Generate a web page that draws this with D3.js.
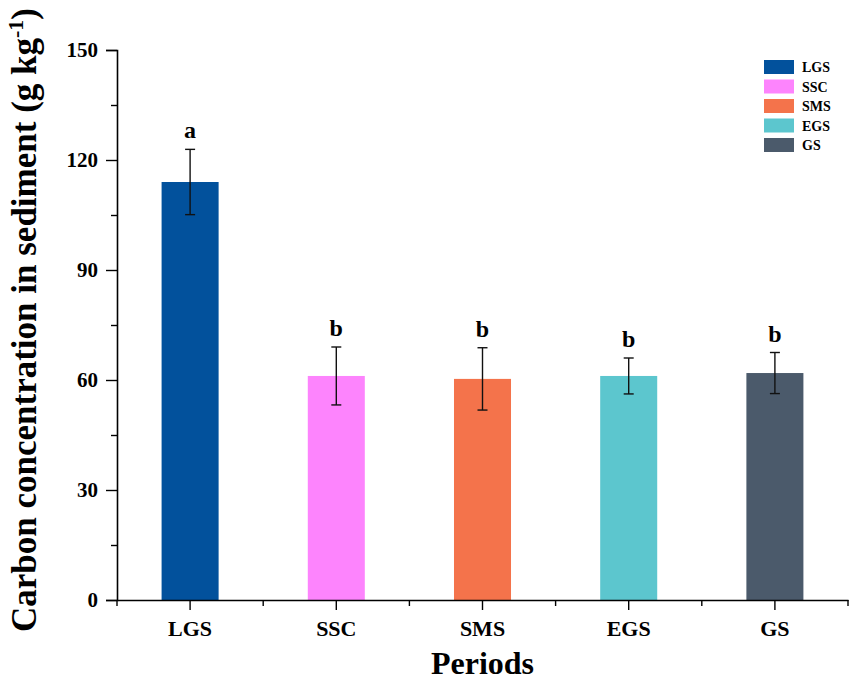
<!DOCTYPE html>
<html>
<head>
<meta charset="utf-8">
<script src="https://cdn.jsdelivr.net/npm/d3@7"></script>
<style>
  body { margin: 0; background: #fff; }
  text { font-family: "Liberation Serif", "Times New Roman", serif; }
</style>
</head>
<body>
<div id="chart"></div>
<script>
'use strict';

// data
const periods = ['LGS', 'SSC', 'SMS', 'EGS', 'GS'];
const carbonMean = [114.0, 61.1, 60.3, 61.1, 61.9];
const carbonErr = [8.9, 7.9, 8.5, 4.9, 5.6];
const groupLetters = ['a', 'b', 'b', 'b', 'b'];
const periodColours = ['#02519c', '#fd84fd', '#f4734b', '#5cc6ce', '#4b5a6b'];
const yTicks = [0, 30, 60, 90, 120, 150];
const yMinorTicks = [15, 45, 75, 105, 135];

const width = 850;
const height = 681;

const svg = d3.select('#chart')
    .append('svg')
    .attr('width', width)
    .attr('height', height);

const xScale = d3.scaleBand()
    .domain(periods)
    .range([117, 848])
    .padding(0);

const yScale = d3.scaleLinear()
    .domain([0, 150])
    .range([600, 50]);

const barWidth = xScale.bandwidth() * 0.39;

// bars
svg.append('g')
    .selectAll('rect')
    .data(periods)
    .enter()
    .append('rect')
    .attr('x', (d) => xScale(d) + (xScale.bandwidth() - barWidth) / 2)
    .attr('y', (d, i) => yScale(carbonMean[i]))
    .attr('width', barWidth)
    .attr('height', (d, i) => yScale(0) - yScale(carbonMean[i]))
    .attr('fill', (d, i) => periodColours[i]);

// error bars
let errs = svg.append('g')
    .attr('stroke', '#111')
    .attr('stroke-width', 1.4);

periods.forEach((p, i) => {
    let cx = xScale(p) + xScale.bandwidth() / 2;
    let top = yScale(carbonMean[i] + carbonErr[i]);
    let bot = yScale(carbonMean[i] - carbonErr[i]);
    errs.append('line').attr('x1', cx).attr('x2', cx).attr('y1', top).attr('y2', bot);
    errs.append('line').attr('x1', cx - 5).attr('x2', cx + 5).attr('y1', top).attr('y2', top);
    errs.append('line').attr('x1', cx - 5).attr('x2', cx + 5).attr('y1', bot).attr('y2', bot);
});

// significance letters
svg.append('g')
    .selectAll('text')
    .data(periods)
    .enter()
    .append('text')
    .attr('x', (d) => xScale(d) + xScale.bandwidth() / 2)
    .attr('y', (d, i) => yScale(carbonMean[i] + carbonErr[i]) - 11)
    .attr('text-anchor', 'middle')
    .attr('font-size', 24)
    .attr('font-weight', 'bold')
    .attr('fill', '#000')
    .text((d, i) => groupLetters[i]);

// y axis
let yAxis = d3.axisLeft(yScale)
    .tickValues(yTicks)
    .tickSize(11)
    .tickPadding(8);

let yG = svg.append('g')
    .attr('transform', 'translate(117,0)')
    .call(yAxis);

yG.selectAll('text')
    .attr('font-size', 21)
    .attr('font-weight', 'bold')
    .attr('font-family', '"Liberation Serif", serif');

svg.append('g')
    .attr('transform', 'translate(117,0)')
    .call(d3.axisLeft(yScale).tickValues(yMinorTicks).tickSize(6).tickFormat(''))
    .select('.domain').remove();

// x axis
let xAxis = d3.axisBottom(xScale)
    .tickSize(10)
    .tickSizeOuter(0)
    .tickPadding(10);

let xG = svg.append('g')
    .attr('transform', 'translate(0,600)')
    .call(xAxis);

xG.selectAll('text')
    .attr('font-size', 22)
    .attr('font-weight', 'bold')
    .attr('font-family', '"Liberation Serif", serif');

let bandEdges = periods.map((p) => xScale(p)).concat([xScale.range()[1]]);
let xMinor = svg.append('g')
    .attr('stroke', '#000')
    .attr('stroke-width', 1.4);
bandEdges.forEach((x) => {
    xMinor.append('line').attr('x1', x).attr('x2', x).attr('y1', 600).attr('y2', 606);
});

svg.selectAll('.domain').attr('stroke-width', 1.6);
svg.selectAll('.tick line').attr('stroke-width', 1.4);

// axis titles
svg.append('text')
    .attr('x', (117 + 848) / 2)
    .attr('y', 674)
    .attr('text-anchor', 'middle')
    .attr('font-size', 32)
    .attr('font-weight', 'bold')
    .text('Periods');

let yTitle = svg.append('text')
    .attr('transform', 'translate(36,' + 320 + ') rotate(-90)')
    .attr('text-anchor', 'middle')
    .attr('font-size', 35)
    .attr('font-weight', 'bold');
yTitle.append('tspan').text('Carbon concentration in sediment (g kg');
yTitle.append('tspan').attr('dy', -13).attr('font-size', 22).text('-1');
yTitle.append('tspan').attr('dy', 13).text(')');

// legend
let legend = svg.append('g')
    .attr('transform', 'translate(764,60)');

periods.forEach((p, i) => {
    let row = legend.append('g').attr('transform', 'translate(0,' + (i * 19.5) + ')');
    row.append('rect')
        .attr('width', 30)
        .attr('height', 14)
        .attr('fill', periodColours[i]);
    row.append('text')
        .attr('x', 38)
        .attr('y', 12)
        .attr('font-size', 14)
        .attr('font-weight', 'bold')
        .text(p);
});
</script>
</body>
</html>
